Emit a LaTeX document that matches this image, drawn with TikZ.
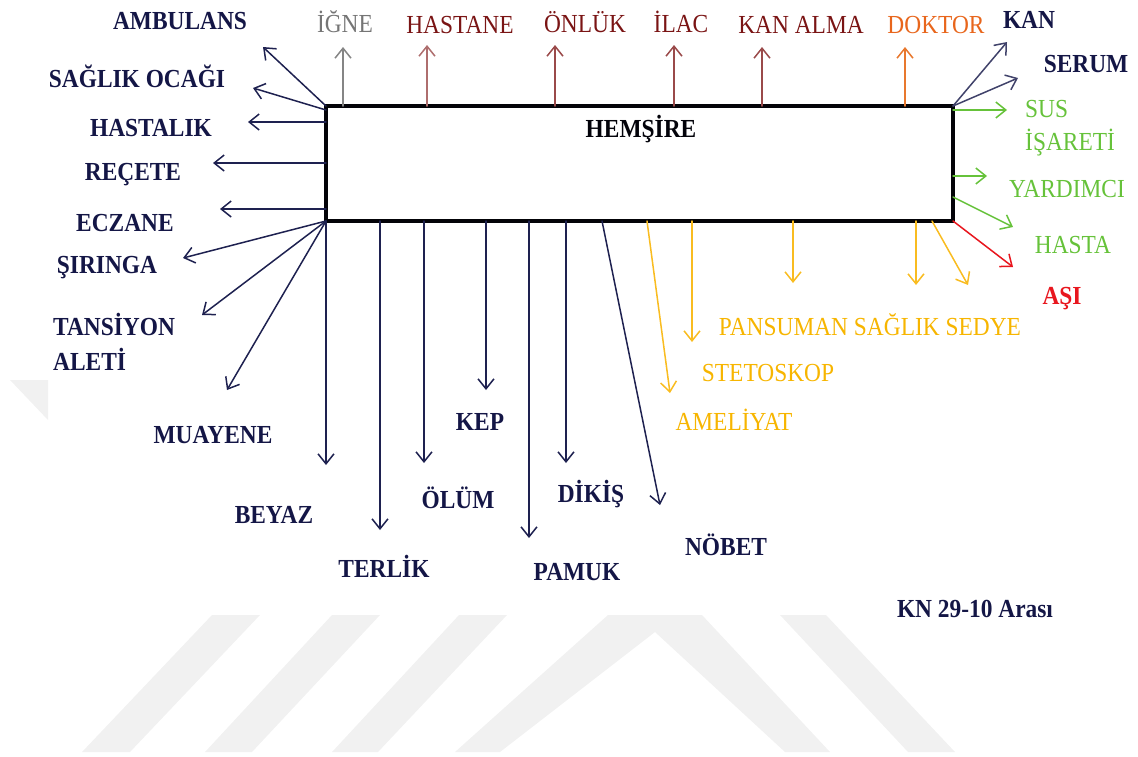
\documentclass[tikz,border=0pt]{standalone}
\usepackage{fontspec}
\setmainfont{Liberation Serif}[FakeStretch=0.9]
\usetikzlibrary{arrows.meta}
\definecolor{navytext}{HTML}{141646}
\definecolor{navyline}{HTML}{1E2150}
\definecolor{igray}{HTML}{757575}
\definecolor{igrayline}{HTML}{858585}
\definecolor{dred}{HTML}{7A1414}
\definecolor{dredline}{HTML}{9A4A4A}
\definecolor{dorange}{HTML}{E8661C}
\definecolor{dorangeline}{HTML}{E8782E}
\definecolor{lgreen}{HTML}{66C23A}
\definecolor{lred}{HTML}{E8161E}
\definecolor{lyellow}{HTML}{F7B500}
\definecolor{lyellowline}{HTML}{F9BC20}
\definecolor{wmark}{HTML}{F1F1F1}
\begin{document}
\begin{tikzpicture}[x=1pt,y=-1pt,
  lbl/.style={anchor=base, inner sep=0pt, font=\fontsize{26}{35}\selectfont},
  nb/.style={lbl, font=\fontsize{26}{35}\selectfont\bfseries, text=navytext},
  arr/.style={line width=1.5pt, line cap=round, -{Straight Barb[length=10pt,width=16pt]}},
  navyarr/.style={arr, draw=navyline},
  yarr/.style={arr, draw=lyellowline},
  garr/.style={arr, draw=lgreen},
]
\useasboundingbox (0,0) rectangle (1138,756);
% watermark
\fill[wmark] (82,752) -- (130,752) -- (260,615) -- (212,615) -- cycle;
\fill[wmark] (205,752) -- (252,752) -- (380,615) -- (332,615) -- cycle;
\fill[wmark] (332,752) -- (378,752) -- (507,615) -- (459,615) -- cycle;
\fill[wmark] (455,752) -- (500,752) -- (655,632) -- (785,752) -- (830,752) -- (702,615) -- (608,615) -- cycle;
\fill[wmark] (908,752) -- (955,752) -- (826,615) -- (780,615) -- cycle;
\fill[wmark] (10,380) -- (48,380) -- (48,420) -- cycle;

% central box
\node[draw=black!90!navyline, line width=3.8pt, outer sep=0pt, inner sep=0pt,
  minimum width=627pt, minimum height=115pt] (box) at (639.5,163.5) {};
\node[nb, text=black!85!navytext] (hem) at (641,137) {HEMŞİRE};

% left labels
\node[nb] (ambulans) at (180,29) {AMBULANS};
\node[nb] (saglikocagi) at (137,87) {SAĞLIK OCAĞI};
\node[nb] (hastalik) at (151,136) {HASTALIK};
\node[nb] (recete) at (133,180) {REÇETE};
\node[nb] (eczane) at (125,231) {ECZANE};
\node[nb] (siringa) at (107,273) {ŞIRINGA};
\node[nb, anchor=base west, align=left] (tansiyon) at (53,370) {TANSİYON\\ALETİ};
\node[nb] (muayene) at (213,443) {MUAYENE};
\node[nb] (beyaz) at (274,523) {BEYAZ};
\node[nb] (terlik) at (384,577) {TERLİK};
\node[nb] (olum) at (458,508) {ÖLÜM};
\node[nb] (kep) at (480,430) {KEP};
\node[nb] (pamuk) at (577,580) {PAMUK};
\node[nb] (dikis) at (591,502) {DİKİŞ};
\node[nb] (nobet) at (726,555) {NÖBET};
\node[nb] (kn) at (975,617) {KN 29-10 Arası};

% top labels
\node[lbl, text=igray] (igne) at (345,32) {İĞNE};
\node[lbl, text=dred] (hastane) at (460,33) {HASTANE};
\node[lbl, text=dred] (onluk) at (585,32) {ÖNLÜK};
\node[lbl, text=dred] (ilac) at (681,32) {İLAC};
\node[lbl, text=dred] (kanalma) at (801,33) {KAN ALMA};
\node[lbl, text=dorange] (doktor) at (936,33) {DOKTOR};
\node[nb] (kan) at (1029,28) {KAN};
\node[nb] (serum) at (1086,72) {SERUM};

% right labels
\node[lbl, text=lgreen, anchor=base west, align=left, font=\fontsize{26}{33}\selectfont] (sus) at (1025,150) {SUS\\İŞARETİ};
\node[lbl, text=lgreen] (yardimci) at (1067,197) {YARDIMCI};
\node[lbl, text=lgreen] (hasta) at (1073,253) {HASTA};
\node[nb, text=lred] (asi) at (1062,304) {AŞI};

% yellow labels
\node[lbl, text=lyellow] (pansuman) at (870,335) {PANSUMAN SAĞLIK SEDYE};
\node[lbl, text=lyellow] (stetoskop) at (768,381) {STETOSKOP};
\node[lbl, text=lyellow] (ameliyat) at (734,430) {AMELİYAT};

% arrow tips
\coordinate (tAmb) at (263,47);
\coordinate (tSag) at (253,88);
\coordinate (tHas) at (248,122);
\coordinate (tRec) at (213,163);
\coordinate (tEcz) at (220,209);
\coordinate (tSir) at (183,258);
\coordinate (tTan) at (202,315);
\coordinate (tMua) at (227,390);
\coordinate (tBey) at (326,465);
\coordinate (tTer) at (380,530);
\coordinate (tOlu) at (424,463);
\coordinate (tKep) at (486,390);
\coordinate (tPam) at (529,538);
\coordinate (tDik) at (566,463);
\coordinate (tNob) at (660,505);
\coordinate (sNob) at (602,221);
\coordinate (tAme) at (670,393);
\coordinate (sAme) at (647,221);
\coordinate (tSte) at (692,342);
\coordinate (tPan) at (793,283);
\coordinate (tSgl) at (916,285);
\coordinate (tSed) at (968,285);
\coordinate (sSed) at (932,221);
\coordinate (tAsi) at (1013,267);
\coordinate (tHst) at (1013,227);
\coordinate (sHst) at (953,197);
\coordinate (tYar) at (987,176);
\coordinate (tSus) at (1007,110);
\coordinate (tSer) at (1018,78);
\coordinate (tKan) at (1007,42);
\coordinate (tIgn) at (343,47);
\coordinate (tHtn) at (427,45);
\coordinate (tOnl) at (555,45);
\coordinate (tIla) at (674,45);
\coordinate (tKal) at (762,47);
\coordinate (tDok) at (905,47);
\coordinate (sSag) at (326,110);

% left fan
\draw[navyarr] (box.north west) -- (tAmb);
\draw[navyarr] (sSag) -- (tSag);
\draw[navyarr] (box.west |- tHas) -- (tHas);
\draw[navyarr] (box.west |- tRec) -- (tRec);
\draw[navyarr] (box.west |- tEcz) -- (tEcz);
\draw[navyarr] (box.south west) -- (tSir);
\draw[navyarr] (box.south west) -- (tTan);
\draw[navyarr] (box.south west) -- (tMua);
\draw[navyarr] (box.south west) -- (tBey);
% bottom navy
\draw[navyarr] (tTer |- box.south) -- (tTer);
\draw[navyarr] (tOlu |- box.south) -- (tOlu);
\draw[navyarr] (tKep |- box.south) -- (tKep);
\draw[navyarr] (tPam |- box.south) -- (tPam);
\draw[navyarr] (tDik |- box.south) -- (tDik);
\draw[navyarr] (sNob) -- (tNob);
% yellow
\draw[yarr] (sAme) -- (tAme);
\draw[yarr] (tSte |- box.south) -- (tSte);
\draw[yarr] (tPan |- box.south) -- (tPan);
\draw[yarr] (tSgl |- box.south) -- (tSgl);
\draw[yarr] (sSed) -- (tSed);
% right
\draw[arr, draw=lred] (box.south east) -- (tAsi);
\draw[garr] (sHst) -- (tHst);
\draw[garr] (box.east |- tYar) -- (tYar);
\draw[garr] (box.east |- tSus) -- (tSus);
\draw[arr, draw=navyline!85!white] (box.north east) -- (tSer);
\draw[arr, draw=navyline!85!white] (box.north east) -- (tKan);
% top
\draw[arr, draw=igrayline] (tIgn |- box.north) -- (tIgn);
\draw[arr, draw=dredline!80!white] (tHtn |- box.north) -- (tHtn);
\draw[arr, draw=dredline] (tOnl |- box.north) -- (tOnl);
\draw[arr, draw=dredline] (tIla |- box.north) -- (tIla);
\draw[arr, draw=dredline] (tKal |- box.north) -- (tKal);
\draw[arr, draw=dorangeline] (tDok |- box.north) -- (tDok);
\end{tikzpicture}
\end{document}
